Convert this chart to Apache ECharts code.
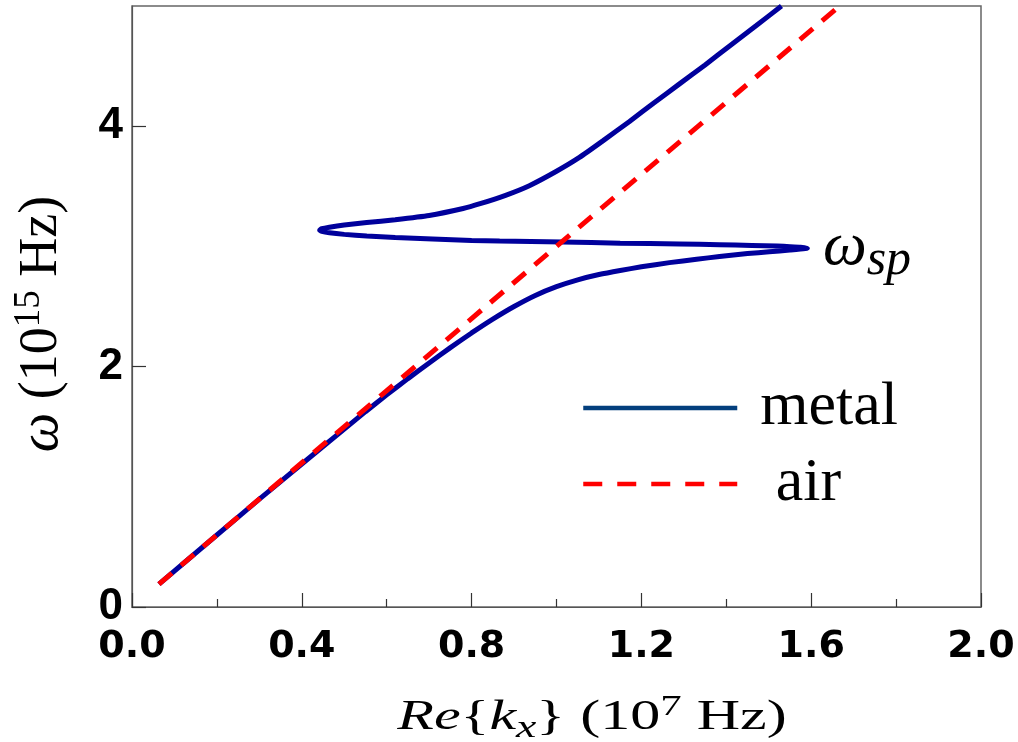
<!DOCTYPE html>
<html>
<head>
<meta charset="utf-8">
<script src="https://cdn.jsdelivr.net/npm/echarts@6/dist/echarts.min.js"></script>
<style>
  html, body { margin: 0; padding: 0; background: #ffffff; }
  #chart { width: 1018px; height: 742px; }
</style>
</head>
<body>
<div id="chart"></div>
<script>
// Dispersion of the surface plasmon at a metal/air interface, with the air light line.
// Re{k_x} in units of 10^7 (x axis), omega in units of 10^15 Hz (y axis).

// metal branch, traced in order: lower branch -> back-bending part -> upper branch
const metalK = [
  0.0635, 0.2, 0.3, 0.4, 0.5, 0.55, 0.6, 0.65, 0.7, 0.75, 0.8, 0.85, 0.9,
  0.95, 1.0, 1.05, 1.1, 1.15, 1.2, 1.266, 1.33, 1.384, 1.45, 1.501, 1.55, 1.591,
  1.575, 1.55, 1.52, 1.46, 1.384, 1.29, 1.15, 1.014, 0.866, 0.8, 0.708, 0.62,
  0.553, 0.5, 0.465, 0.447, 0.442,
  0.447, 0.465, 0.5, 0.553, 0.62, 0.7, 0.78, 0.82, 0.88, 0.936, 1.0, 1.054,
  1.11, 1.172, 1.23, 1.289, 1.35, 1.407, 1.47, 1.53
];
const metalOmega = [
  0.19, 0.599, 0.897, 1.19, 1.48, 1.625, 1.765, 1.90, 2.03, 2.158, 2.28, 2.395, 2.50,
  2.592, 2.665, 2.722, 2.766, 2.80, 2.83, 2.865, 2.893, 2.916, 2.94, 2.955, 2.969, 2.985,
  2.993, 2.998, 3.003, 3.008, 3.014, 3.02, 3.027, 3.036, 3.045, 3.05, 3.062, 3.074,
  3.087, 3.10, 3.113, 3.125, 3.135,
  3.147, 3.16, 3.178, 3.198, 3.222, 3.257, 3.315, 3.355, 3.425, 3.505, 3.625, 3.74,
  3.88, 4.04, 4.195, 4.35, 4.51, 4.665, 4.835, 5.0
];

// light line in air
const airK = [0.0635, 1.0, 1.667];
const airOmega = [0.19, 3.0, 5.0];

// axis ticks
const xTicks = [0.0, 0.4, 0.8, 1.2, 1.6, 2.0];
const yTicks = [0, 2, 4];
const yMax = 5;

const seriesNames = ['metal', 'air'];

const metalData = metalK.map((k, i) => [k, metalOmega[i]]);
const airData = airK.map((k, i) => [k, airOmega[i]]);

// the point where the lower branch turns back (omega_sp)
let tipIndex = 0;
metalK.forEach((k, i) => { if (k > metalK[tipIndex]) tipIndex = i; });
const spPoint = metalData[tipIndex];

const chart = echarts.init(document.getElementById('chart'), null, { renderer: 'canvas' });

const serif = 'Liberation Serif, Times New Roman, serif';
const axisColor = '#555555';

chart.setOption({
  animation: false,
  backgroundColor: '#ffffff',
  grid: {
    left: 132, right: 37, top: 6, bottom: 135,
    show: true, borderColor: '#666666', borderWidth: 1.5, backgroundColor: 'transparent'
  },
  xAxis: {
    type: 'value',
    min: xTicks[0],
    max: xTicks[xTicks.length - 1],
    interval: xTicks[1] - xTicks[0],
    axisLine: { show: true, lineStyle: { color: axisColor, width: 1.2 } },
    axisTick: { show: true, inside: true, length: 14, lineStyle: { color: '#333', width: 1.2 } },
    minorTick: { show: true, splitNumber: 2, length: 8, lineStyle: { color: '#333', width: 1.2 } },
    splitLine: { show: false },
    minorSplitLine: { show: false },
    axisLabel: {
      margin: 21,
      color: '#000',
      fontFamily: 'DejaVu Sans',
      fontWeight: 'bold',
      fontSize: 38,
      formatter: v => v.toFixed(1)
    }
  },
  yAxis: {
    type: 'value',
    min: 0,
    max: yMax,
    interval: yTicks[1] - yTicks[0],
    axisLine: { show: true, lineStyle: { color: axisColor, width: 1.2 } },
    axisTick: { show: true, inside: true, length: 14, customValues: yTicks, lineStyle: { color: '#333', width: 1.2 } },
    splitLine: { show: false },
    axisLabel: {
      margin: 9,
      color: '#000',
      fontFamily: 'Liberation Sans, Arial, sans-serif',
      fontWeight: 'bold',
      fontSize: 44,
      customValues: yTicks
    }
  },
  legend: {
    orient: 'vertical',
    left: 576,
    top: 372,
    itemWidth: 154,
    itemHeight: 14,
    itemGap: 14,
    selectedMode: false,
    data: [
      { name: seriesNames[0], lineStyle: { color: '#033f7d', width: 4.5 } },
      { name: seriesNames[1], lineStyle: { color: '#ff0000', width: 4.5, type: [19, 15] } }
    ],
    itemStyle: { opacity: 0 },
    formatter: name => (name === seriesNames[1] ? ' ' + name : name),
    textStyle: {
      color: '#000',
      fontFamily: serif,
      fontSize: 62,
      lineHeight: 50,
      padding: [0, 0, 0, 18]
    }
  },
  graphic: [
    {
      type: 'text',
      x: 592,
      y: 718,
      scaleX: 1.43,
      style: {
        text: '{i|Re}{{i|k}{sub|x}} (10{sup|7} Hz)',
        fontFamily: serif,
        fontSize: 42,
        fill: '#000',
        align: 'center',
        verticalAlign: 'middle',
        rich: {
          i: { fontFamily: serif, fontSize: 42, fontStyle: 'italic', fill: '#000' },
          sub: { fontFamily: serif, fontSize: 32, fontStyle: 'italic', fill: '#000', padding: [22, 0, 0, 0] },
          sup: { fontFamily: serif, fontSize: 30, fill: '#000', padding: [0, 0, 22, 0] }
        }
      }
    },
    {
      type: 'text',
      x: 42,
      y: 324,
      rotation: Math.PI / 2,
      style: {
        text: '{i|ω} (10{sup|15} Hz)',
        fontFamily: serif,
        fontSize: 54,
        fill: '#000',
        align: 'center',
        verticalAlign: 'middle',
        rich: {
          i: { fontFamily: serif, fontSize: 56, fontStyle: 'italic', fill: '#000' },
          sup: { fontFamily: serif, fontSize: 37, fill: '#000', padding: [0, 0, 26, 0] }
        }
      }
    }
  ],
  series: [
    {
      name: seriesNames[0],
      type: 'line',
      data: metalData,
      symbol: 'none',
      smooth: 0.15,
      lineStyle: { color: '#00009c', width: 5 },
      itemStyle: { color: '#00009c' },
      z: 2,
      markPoint: {
        symbol: 'circle',
        symbolSize: 1,
        itemStyle: { color: 'rgba(0,0,0,0)' },
        silent: true,
        data: [{
          coord: spPoint,
          label: {
            show: true,
            position: 'right',
            distance: 15,
            formatter: '{w|ω}{s|sp}',
            rich: {
              w: { fontFamily: serif, fontSize: 62, fontStyle: 'italic', color: '#000' },
              s: { fontFamily: serif, fontSize: 50, fontStyle: 'italic', color: '#000', padding: [26, 0, 0, 0] }
            }
          }
        }]
      }
    },
    {
      name: seriesNames[1],
      type: 'line',
      data: airData,
      symbol: 'none',
      lineStyle: { color: '#ff0000', width: 5, type: [17, 12] },
      itemStyle: { color: '#ff0000' },
      z: 3
    }
  ]
});
</script>
</body>
</html>
